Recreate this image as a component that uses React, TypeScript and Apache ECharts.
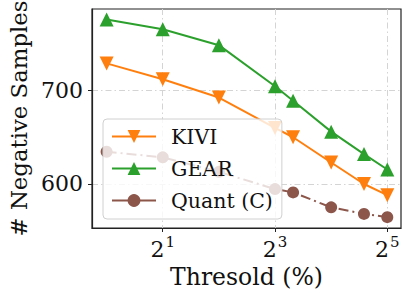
import React, { useEffect, useRef } from 'react';
import * as echarts from 'echarts';

const thresholds = [1, 2, 4, 8, 10, 16, 24, 32];
const kivi = [729, 712, 692.5, 660, 650, 623, 600, 588];
const gear = [776, 765.5, 748.5, 704.5, 689, 656, 632, 615.5];
const quant = [634.5, 628.5, 613, 594.5, 591, 575, 568, 564.5];
const xTicks = [2, 8, 32];
const yTicks = [600, 700];
const seriesNames = ['KIVI', 'GEAR', 'Quant (C)'];

const FONT = "'DejaVu Serif', serif";
const gridLine = { color: '#d4d4d4', width: 1, type: [6, 3, 1.5, 3] as any };

export default function App() {
  const ref = useRef<HTMLDivElement>(null);
  useEffect(() => {
    const chart = echarts.init(ref.current!, null, { renderer: 'svg' });
    const mk = (vals: number[]) => thresholds.map((t, i) => [t, vals[i]]);
    chart.setOption({
      animation: false,
      textStyle: { fontFamily: FONT },
      grid: {
        left: 92, top: 9, width: 309, height: 219,
        containLabel: false, outerBoundsMode: 'none',
        show: true, borderColor: '#222', borderWidth: 1.2, backgroundColor: 'transparent',
      },
      legend: {
        orient: 'vertical',
        left: 103, top: 119,
        padding: [7, 9, 8, 8],
        itemWidth: 44, itemHeight: 16, itemGap: 11,
        backgroundColor: 'rgba(255,255,255,0.8)',
        borderColor: '#d0d0d0', borderWidth: 1, borderRadius: 4,
        data: seriesNames,
        lineStyle: { type: 'solid' },
        textStyle: { fontFamily: FONT, fontSize: 20.5, lineHeight: 20, color: '#111', padding: [0, 0, 0, 10] },
      },
      xAxis: {
        type: 'log', logBase: 2, min: 0.835, max: 37.9,
        name: 'Thresold (%)', nameLocation: 'middle', nameGap: 35,
        nameTextStyle: { fontFamily: FONT, fontSize: 23.5, color: '#111' },
        axisLine: { show: true, lineStyle: { color: '#222', width: 1.2 } },
        axisTick: { show: true, length: 4, lineStyle: { color: '#222' }, customValues: xTicks },
        axisLabel: {
          customValues: xTicks, margin: 6, color: '#111', fontFamily: FONT,
          formatter: (v: number) => `{b|2}{s|${Math.round(Math.log2(v))}}`,
          rich: {
            b: { fontFamily: FONT, fontSize: 22, color: '#111', lineHeight: 26, verticalAlign: 'bottom' },
            s: { fontFamily: FONT, fontSize: 15, color: '#111', verticalAlign: 'top', padding: [0, 0, 0, 1] },
          },
        },
        splitLine: { show: true, lineStyle: gridLine },
        minorTick: { show: false },
      },
      yAxis: {
        type: 'value', min: 552.9, max: 787.2,
        name: '# Negative Samples', nameLocation: 'middle', nameGap: 57,
        nameTextStyle: { fontFamily: FONT, fontSize: 22.8, color: '#111' },
        axisLine: { show: true, lineStyle: { color: '#222', width: 1.2 } },
        axisTick: { show: true, length: 4, lineStyle: { color: '#222' }, customValues: yTicks },
        axisLabel: { customValues: yTicks, margin: 9, fontFamily: FONT, fontSize: 22, color: '#111' },
        splitLine: { show: true, lineStyle: gridLine },
      },
      series: [
        {
          name: seriesNames[0], type: 'line', data: mk(kivi), color: '#ff7f0e',
          symbol: 'triangle', symbolRotate: 180, symbolSize: 14,
          lineStyle: { width: 2 }, itemStyle: { color: '#ff7f0e' },
        },
        {
          name: seriesNames[1], type: 'line', data: mk(gear), color: '#2ca02c',
          symbol: 'triangle', symbolSize: 14,
          lineStyle: { width: 2 }, itemStyle: { color: '#2ca02c' },
        },
        {
          name: seriesNames[2], type: 'line', data: mk(quant), color: '#8c564b',
          symbol: 'circle', symbolSize: 12,
          lineStyle: { width: 2, type: [10, 4, 2, 4] }, itemStyle: { color: '#8c564b' },
        },
      ],
    });
    return () => chart.dispose();
  }, []);
  return <div ref={ref} style={{ width: 411, height: 299, position: 'absolute', left: 0, top: 0 }} />;
}
